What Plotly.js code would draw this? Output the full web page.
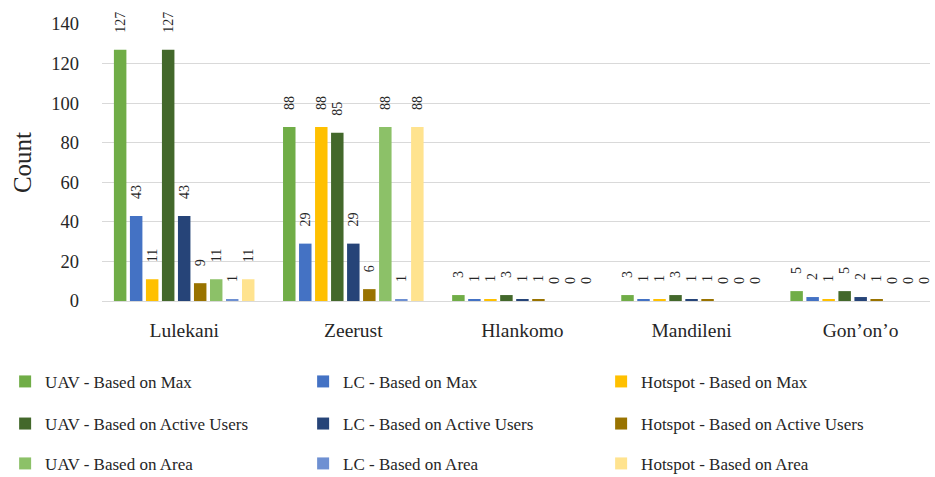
<!DOCTYPE html>
<html>
<head>
<meta charset="utf-8">
<script src="https://cdn.plot.ly/plotly-3.0.1.min.js"></script>
<style>html,body{margin:0;padding:0;background:#fff;}#chart{width:935px;height:477px;}</style>
</head>
<body>
<div id="chart"></div>
<script>
const categories = ["Lulekani", "Zeerust", "Hlankomo", "Mandileni", "Gon\u2019on\u2019o"];
const seriesNames = [
  "UAV - Based on Max", "LC - Based on Max", "Hotspot - Based on Max",
  "UAV - Based on Active Users", "LC - Based on Active Users", "Hotspot - Based on Active Users",
  "UAV - Based on Area", "LC - Based on Area", "Hotspot - Based on Area"
];
const uavMax = [127, 88, 3, 3, 5];
const lcMax = [43, 29, 1, 1, 2];
const hotspotMax = [11, 88, 1, 1, 1];
const uavActive = [127, 85, 3, 3, 5];
const lcActive = [43, 29, 1, 1, 2];
const hotspotActive = [9, 6, 1, 1, 1];
const uavArea = [11, 88, 0, 0, 0];
const lcArea = [1, 1, 0, 0, 0];
const hotspotArea = [11, 88, 0, 0, 0];
const yTicks = [0, 20, 40, 60, 80, 100, 120, 140];

const seriesValues = [uavMax, lcMax, hotspotMax, uavActive, lcActive, hotspotActive, uavArea, lcArea, hotspotArea];
const colors = ["#70AD47", "#4472C4", "#FFC000", "#43682B", "#264478", "#997300", "#8CC168", "#6E90D2", "#FFE38F"];
const legendIds = ["legend", "legend", "legend", "legend2", "legend2", "legend2", "legend3", "legend3", "legend3"];

const FONT = "Liberation Serif, Times New Roman, serif";
const TXT = "#262626";

const traces = seriesValues.map((vals, i) => ({
  type: "bar",
  name: seriesNames[i],
  x: categories,
  y: vals,
  marker: {color: colors[i]},
  text: vals.map(String),
  texttemplate: "\u00a0\u00a0\u00a0\u00a0%{text}",
  textposition: "outside",
  textangle: -90,
  constraintext: "none",
  cliponaxis: false,
  textfont: {family: FONT, size: 14, color: TXT},
  legend: legendIds[i],
  hoverinfo: "name+y"
}));

const legendBase = {
  orientation: "h",
  xref: "paper", yref: "paper",
  x: -0.117, xanchor: "left",
  yanchor: "middle",
  entrywidth: 253,
  entrywidthmode: "pixels",
  traceorder: "normal",
  bgcolor: "rgba(0,0,0,0)",
  font: {family: FONT, size: 17, color: TXT}
};

const layout = {
  width: 935, height: 477,
  margin: {l: 102, r: 5, t: 24, b: 176, autoexpand: false},
  paper_bgcolor: "#fff", plot_bgcolor: "#fff",
  barmode: "group",
  bargap: 0.148,
  bargroupgap: 0.22,
  showlegend: true,
  xaxis: {
    type: "category",
    range: [-0.486, 4.41],
    showgrid: false,
    showline: true, linecolor: "#D9D9D9", linewidth: 1,
    ticks: "",
    ticklabelstandoff: 12,
    tickfont: {family: FONT, size: 19.5, color: TXT},
    automargin: false,
    fixedrange: true
  },
  yaxis: {
    range: [0, 140],
    tickvals: yTicks,
    ticktext: yTicks.map(String),
    showgrid: true, gridcolor: "#D9D9D9", gridwidth: 1,
    zeroline: false,
    showline: false,
    ticks: "",
    ticklabelstandoff: 22,
    tickfont: {family: FONT, size: 18.5, color: TXT},
    title: {text: "Count", font: {family: FONT, size: 25, color: TXT}, standoff: 12},
    automargin: false,
    fixedrange: true
  },
  legend: Object.assign({}, legendBase, {y: -0.292}),
  legend2: Object.assign({}, legendBase, {y: -0.444}),
  legend3: Object.assign({}, legendBase, {y: -0.588})
};

Plotly.newPlot("chart", traces, layout, {displayModeBar: false, staticPlot: true});
</script>
</body>
</html>
